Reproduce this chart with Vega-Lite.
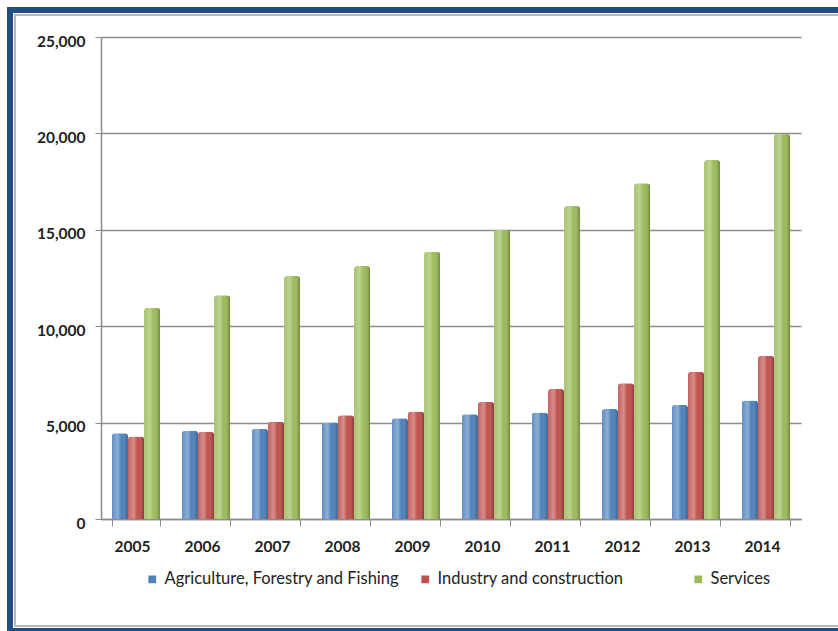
{
  "$schema": "https://vega.github.io/schema/vega-lite/v6.json",
  "autosize": "none",
  "width": 700,
  "height": 482,
  "padding": {"left": 101, "top": 37, "right": 37, "bottom": 112},
  "background": "white",
  "config": {"view": {"stroke": null}},
  "data": {"values": [
    {"year": "2005", "sector": "Agriculture, Forestry and Fishing", "value": 4450},
    {"year": "2005", "sector": "Industry and construction", "value": 4280},
    {"year": "2005", "sector": "Services", "value": 10950},
    {"year": "2006", "sector": "Agriculture, Forestry and Fishing", "value": 4580},
    {"year": "2006", "sector": "Industry and construction", "value": 4530},
    {"year": "2006", "sector": "Services", "value": 11600},
    {"year": "2007", "sector": "Agriculture, Forestry and Fishing", "value": 4680},
    {"year": "2007", "sector": "Industry and construction", "value": 5050},
    {"year": "2007", "sector": "Services", "value": 12600},
    {"year": "2008", "sector": "Agriculture, Forestry and Fishing", "value": 5010},
    {"year": "2008", "sector": "Industry and construction", "value": 5380},
    {"year": "2008", "sector": "Services", "value": 13120},
    {"year": "2009", "sector": "Agriculture, Forestry and Fishing", "value": 5220},
    {"year": "2009", "sector": "Industry and construction", "value": 5570},
    {"year": "2009", "sector": "Services", "value": 13860},
    {"year": "2010", "sector": "Agriculture, Forestry and Fishing", "value": 5430},
    {"year": "2010", "sector": "Industry and construction", "value": 6080},
    {"year": "2010", "sector": "Services", "value": 14990},
    {"year": "2011", "sector": "Agriculture, Forestry and Fishing", "value": 5530},
    {"year": "2011", "sector": "Industry and construction", "value": 6740},
    {"year": "2011", "sector": "Services", "value": 16230},
    {"year": "2012", "sector": "Agriculture, Forestry and Fishing", "value": 5700},
    {"year": "2012", "sector": "Industry and construction", "value": 7040},
    {"year": "2012", "sector": "Services", "value": 17410},
    {"year": "2013", "sector": "Agriculture, Forestry and Fishing", "value": 5910},
    {"year": "2013", "sector": "Industry and construction", "value": 7640},
    {"year": "2013", "sector": "Services", "value": 18620},
    {"year": "2014", "sector": "Agriculture, Forestry and Fishing", "value": 6140},
    {"year": "2014", "sector": "Industry and construction", "value": 8470},
    {"year": "2014", "sector": "Services", "value": 19970}
  ]},
  "layer": [
    {
      "mark": {"type": "rect", "x": -91, "y": -27, "x2": 760, "y2": 594, "fill": null, "stroke": "#1F4E84", "strokeWidth": 6},
      "encoding": {}
    },
    {
      "mark": {"type": "rect", "x": -86, "y": -22, "x2": 760, "y2": 589, "fill": null, "stroke": "#B8B8B8", "strokeWidth": 1.5},
      "encoding": {}
    },
    {
      "encoding": {
        "x": {
          "field": "year", "type": "nominal",
          "scale": {"paddingInner": 0.31, "paddingOuter": 0.155},
          "axis": {
            "title": null, "labelAngle": 0, "labelFont": "Lato", "labelFontSize": 15.5, "labelFontWeight": "bold",
            "labelColor": "#222", "labelPadding": 13, "labelOffset": -4,
            "domainColor": "#8c8c8c", "domainWidth": 1.5,
            "tickColor": "#8c8c8c", "tickBand": "extent", "tickSize": 7, "tickWidth": 1
          }
        },
        "xOffset": {"field": "sector", "type": "nominal", "scale": {"paddingInner": 0}},
        "y": {
          "field": "value", "type": "quantitative",
          "scale": {"domain": [0, 25000], "nice": false},
          "axis": {
            "title": null, "values": [0, 5000, 10000, 15000, 20000, 25000], "labelOverlap": false,
            "format": ",d", "labelFont": "Lato", "labelFontSize": 15.5, "labelFontWeight": "bold",
            "labelColor": "#222", "labelPadding": 10, "labelOffset": 4,
            "grid": true, "gridColor": "#8c8c8c", "gridWidth": 1.5,
            "domainColor": "#8c8c8c", "domainWidth": 1.5,
            "tickColor": "#8c8c8c", "tickSize": 6
          }
        }
      },
      "layer": [
        {
          "mark": {"type": "bar", "cornerRadiusTopLeft": 3, "cornerRadiusTopRight": 3},
          "encoding": {
            "color": {
              "field": "sector", "type": "nominal",
              "scale": {
                "domain": ["Agriculture, Forestry and Fishing", "Industry and construction", "Services"],
                "range": ["#4F81BD", "#C0504D", "#9BBB59"]
              },
              "legend": {
                "orient": "none", "legendX": 43, "legendY": 534, "direction": "horizontal",
                "gridAlign": "all", "columnPadding": 17, "padding": 0,
                "title": null, "symbolType": "square", "symbolSize": 60, "symbolStrokeWidth": 0,
                "labelFont": "Lato", "labelFontSize": 16.5, "labelColor": "#222", "labelOffset": 4, "labelLimit": 300
              }
            }
          }
        },
        {
          "mark": {
            "type": "bar", "cornerRadiusTopLeft": 3, "cornerRadiusTopRight": 3,
            "color": {
              "gradient": "linear", "x1": 0, "x2": 1, "y1": 0, "y2": 0,
              "stops": [
                {"offset": 0, "color": "rgba(255,255,255,0.1)"},
                {"offset": 0.35, "color": "rgba(255,255,255,0.35)"},
                {"offset": 0.6, "color": "rgba(255,255,255,0)"},
                {"offset": 1, "color": "rgba(0,0,0,0.3)"}
              ]
            }
          }
        }
      ]
    }
  ]
}
